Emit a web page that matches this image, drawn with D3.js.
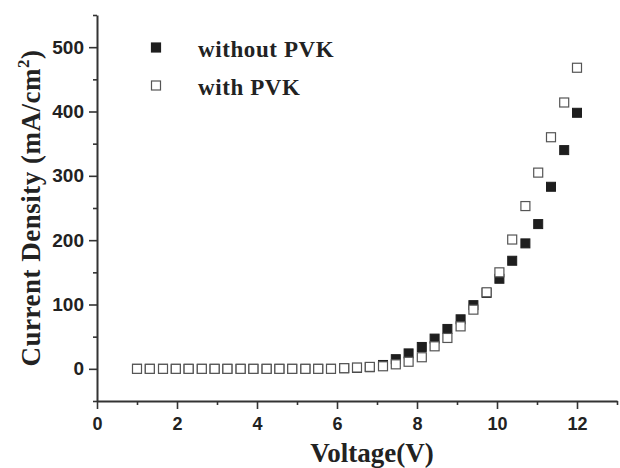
<!DOCTYPE html>
<html>
<head>
<meta charset="utf-8">
<script src="https://cdn.jsdelivr.net/npm/d3@7"></script>
<style>
  body { margin: 0; background: #fff; }
  svg { display: block; }
</style>
</head>
<body>
<div id="vis"></div>
<script>
// Data
const VOLTAGE = [1.00, 1.32, 1.65, 1.97, 2.29, 2.62, 2.94, 3.26, 3.59, 3.91,
                 4.24, 4.56, 4.88, 5.21, 5.53, 5.85, 6.18, 6.50, 6.82, 7.15,
                 7.47, 7.79, 8.12, 8.44, 8.76, 9.09, 9.41, 9.74, 10.06, 10.38,
                 10.71, 11.03, 11.35, 11.68, 12.00];
const WITHOUT_PVK = [0, 0, 0, 0, 0, 0, 0, 0, 0, 0,
                     0, 0, 0, 0, 0, 0, 1, 1.5, 2.5, 6,
                     15, 24, 34, 47, 62, 77, 99, 118, 140, 168,
                     195, 225, 283, 340, 398];
const WITH_PVK = [0, 0, 0, 0, 0, 0, 0, 0, 0, 0,
                  0, 0, 0, 0, 0, 0, 1, 2, 3, 4,
                  7, 11, 18, 35, 48, 66, 92, 119, 150, 201,
                  253, 305, 360, 414, 468];
const X_MAJOR = [0, 2, 4, 6, 8, 10, 12];
const X_MINOR = [1, 3, 5, 7, 9, 11, 13];
const Y_MAJOR = [0, 100, 200, 300, 400, 500];
const Y_MINOR = [-50, 50, 150, 250, 350, 450, 550];
const LEGEND = ["without PVK", "with PVK"];

// Frame constants
const FRAME_WIDTH = 620;
const FRAME_HEIGHT = 468;
const MARGINS = {left: 97, right: 3, top: 15, bottom: 67};
const VIS_WIDTH = FRAME_WIDTH - (MARGINS.left + MARGINS.right);
const VIS_HEIGHT = FRAME_HEIGHT - (MARGINS.top + MARGINS.bottom);

const X_SCALE = d3.scaleLinear().domain([0, 13]).range([0, VIS_WIDTH]);
const Y_SCALE = d3.scaleLinear().domain([-50, 550]).range([VIS_HEIGHT, 0]);

const AXIS_COLOR = "#333";
const SANS = "'Liberation Sans', Arial, sans-serif";
const SERIF = "'Liberation Serif', 'Times New Roman', serif";

const FRAME = d3.select("#vis")
    .append("svg")
    .attr("width", FRAME_WIDTH)
    .attr("height", FRAME_HEIGHT);

const G = FRAME.append("g")
    .attr("transform", "translate(" + MARGINS.left + "," + MARGINS.top + ")");

// axes: major with labels, minor without
function styleAxis(sel, size) {
    sel.select(".domain").attr("stroke", AXIS_COLOR).attr("stroke-width", 2);
    sel.selectAll(".tick line").attr("stroke", AXIS_COLOR).attr("stroke-width", 1.6);
    sel.selectAll(".tick text")
        .attr("fill", "#222")
        .attr("font-family", SANS)
        .attr("font-weight", "bold")
        .attr("font-size", size + "px");
}

const xMajor = G.append("g")
    .attr("transform", "translate(0," + VIS_HEIGHT + ")")
    .call(d3.axisBottom(X_SCALE).tickValues(X_MAJOR).tickSize(8).tickSizeOuter(0).tickPadding(8));
styleAxis(xMajor, 18);

const xMinor = G.append("g")
    .attr("transform", "translate(0," + VIS_HEIGHT + ")")
    .call(d3.axisBottom(X_SCALE).tickValues(X_MINOR).tickSize(4).tickFormat(""));
xMinor.select(".domain").remove();
styleAxis(xMinor, 18);

const yMajor = G.append("g")
    .call(d3.axisLeft(Y_SCALE).tickValues(Y_MAJOR).tickSize(8).tickSizeOuter(0).tickPadding(5));
styleAxis(yMajor, 19);

const yMinor = G.append("g")
    .call(d3.axisLeft(Y_SCALE).tickValues(Y_MINOR).tickSize(4).tickFormat(""));
yMinor.select(".domain").remove();
styleAxis(yMinor, 19);

// points: filled first, open squares on top
const M = 9;
G.selectAll(".filled")
    .data(VOLTAGE.map((v, i) => ({x: v, y: WITHOUT_PVK[i]})))
    .enter()
    .append("rect")
    .attr("class", "filled")
    .attr("x", (d) => X_SCALE(d.x) - M / 2)
    .attr("y", (d) => Y_SCALE(d.y) - M / 2)
    .attr("width", M)
    .attr("height", M)
    .attr("fill", "#1e1e1e")
    .attr("stroke", "#1e1e1e")
    .attr("stroke-width", 1);

G.selectAll(".open")
    .data(VOLTAGE.map((v, i) => ({x: v, y: WITH_PVK[i]})))
    .enter()
    .append("rect")
    .attr("class", "open")
    .attr("x", (d) => X_SCALE(d.x) - M / 2)
    .attr("y", (d) => Y_SCALE(d.y) - M / 2)
    .attr("width", M)
    .attr("height", M)
    .attr("fill", "#fff")
    .attr("stroke", "#555")
    .attr("stroke-width", 1.2);

// legend
const legendRows = [
    {label: LEGEND[0], fill: "#1e1e1e", stroke: "#1e1e1e", y: 47.5},
    {label: LEGEND[1], fill: "#fff", stroke: "#555", y: 85.5}
];
legendRows.forEach((r) => {
    FRAME.append("rect")
        .attr("x", 156 - M / 2)
        .attr("y", r.y - M / 2)
        .attr("width", M)
        .attr("height", M)
        .attr("fill", r.fill)
        .attr("stroke", r.stroke)
        .attr("stroke-width", 1.2);
    FRAME.append("text")
        .attr("x", 198)
        .attr("y", r.y + 9.5)
        .attr("font-family", SERIF)
        .attr("font-weight", "bold")
        .attr("font-size", "23px")
        .attr("letter-spacing", "0.6px")
        .attr("fill", "#222")
        .text(r.label);
});

// axis titles
FRAME.append("text")
    .attr("x", 372)
    .attr("y", 462)
    .attr("text-anchor", "middle")
    .attr("font-family", SERIF)
    .attr("font-weight", "bold")
    .attr("font-size", "27px")
    .attr("fill", "#222")
    .text("Voltage(V)");

const yTitle = FRAME.append("text")
    .attr("transform", "translate(40," + (MARGINS.top + VIS_HEIGHT / 2) + ") rotate(-90)")
    .attr("text-anchor", "middle")
    .attr("font-family", SERIF)
    .attr("font-weight", "bold")
    .attr("font-size", "27px")
    .attr("letter-spacing", "0.5px")
    .attr("fill", "#222");
yTitle.append("tspan").text("Current Density (mA/cm");
yTitle.append("tspan").attr("font-size", "17px").attr("dy", "-11").text("2");
yTitle.append("tspan").attr("dy", "11").text(")");
</script>
</body>
</html>
